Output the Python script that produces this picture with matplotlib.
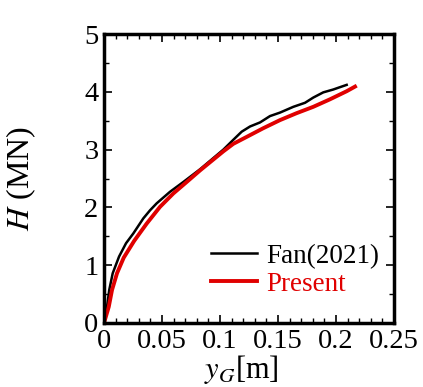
import matplotlib
matplotlib.use("Agg")
import matplotlib.pyplot as plt
from matplotlib.ticker import MultipleLocator

# Fan (2021) reference curve
fan_y = [0.0, 0.0026, 0.0045, 0.0075, 0.013, 0.019, 0.0253, 0.0339, 0.0397,
         0.0454, 0.0569, 0.0684, 0.0828, 0.1029, 0.1115, 0.1187, 0.1259,
         0.1345, 0.1431, 0.1517, 0.1632, 0.1733, 0.1804, 0.189, 0.1977,
         0.2034, 0.2092]
fan_H = [0.0, 0.28, 0.57, 0.86, 1.15, 1.38, 1.55, 1.81, 1.95,
         2.07, 2.27, 2.44, 2.66, 3.00, 3.17, 3.31, 3.40,
         3.47, 3.58, 3.64, 3.74, 3.81, 3.90, 3.99, 4.04,
         4.08, 4.12]

# present model
pre_y = [0.0, 0.0041, 0.0069, 0.0112, 0.017, 0.026, 0.0368, 0.0483, 0.0597,
         0.0713, 0.0828, 0.1029, 0.1115, 0.123, 0.1373, 0.1517, 0.166,
         0.1804, 0.1948, 0.2092, 0.2164]
pre_H = [0.0, 0.28, 0.57, 0.86, 1.13, 1.42, 1.72, 2.01, 2.24,
         2.44, 2.64, 2.97, 3.10, 3.22, 3.37, 3.51, 3.63,
         3.74, 3.87, 4.01, 4.09]

plt.rcParams['font.family'] = ['Liberation Serif', 'DejaVu Serif']
plt.rcParams['mathtext.fontset'] = 'stix'

fig = plt.figure(figsize=(4.23, 3.87), dpi=100)
ax = fig.add_axes([104/423, 1 - 323/387, 290/423, 289/387])

ax.plot(fan_y, fan_H, color='black', lw=1.8, label='Fan(2021)')
ax.plot(pre_y, pre_H, color='#e00000', lw=2.8, label='Present')

ax.set_xlim(0, 0.25)
ax.set_ylim(0, 5)
ax.set_xticks([0, 0.05, 0.1, 0.15, 0.2, 0.25])
ax.set_xticklabels(['0', '0.05', '0.1', '0.15', '0.2', '0.25'])
ax.xaxis.set_minor_locator(MultipleLocator(0.01))
ax.yaxis.set_major_locator(MultipleLocator(1))
ax.yaxis.set_minor_locator(MultipleLocator(0.5))
ax.tick_params(which='both', direction='in', top=True, right=True, labelsize=20.5)
ax.tick_params(which='major', length=6, width=1.2, pad=4)
ax.tick_params(which='minor', length=3.5, width=1.0)
for s in ax.spines.values():
    s.set_linewidth(2.5)

ax.set_xlabel(r'$y_G$[m]', fontsize=22)
ax.xaxis.set_label_coords(0.474, -0.105)
ax.set_ylabel(r'$H$ (MN)', fontsize=23)
ax.yaxis.set_label_coords(-0.228, 0.5)

leg = ax.legend(loc='lower right', bbox_to_anchor=(1.034, 0.007), frameon=False,
                fontsize=19.5, handlelength=1.7, borderaxespad=0.5,
                labelspacing=0.1, handletextpad=0.35)
leg.get_texts()[1].set_color('#e00000')

fig.savefig('out.png', dpi=100)
